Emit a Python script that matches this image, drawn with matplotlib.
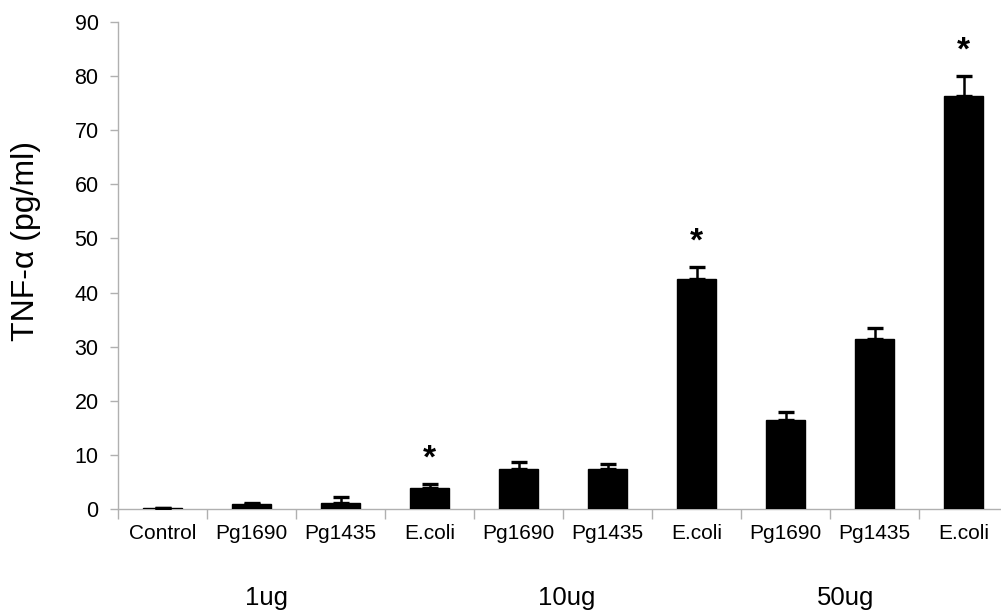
import matplotlib
matplotlib.use("Agg")
import matplotlib.pyplot as plt
import numpy as np

plt.rcParams['font.family'] = ['Liberation Sans', 'DejaVu Sans']

categories = ["Control", "Pg1690", "Pg1435", "E.coli", "Pg1690", "Pg1435",
              "E.coli", "Pg1690", "Pg1435", "E.coli"]
values = [0.1, 0.9, 1.2, 3.9, 7.3, 7.3, 42.5, 16.4, 31.5, 76.3]
errors = [0.0, 0.3, 1.1, 0.7, 1.4, 1.1, 2.2, 1.5, 1.9, 3.7]
significant = [False, False, False, True, False, False, True, False, False, True]
groups = ["1ug", "10ug", "50ug"]
group_centers = [1.67, 5.04, 8.17]  # x positions in category units
yticks = [0, 10, 20, 30, 40, 50, 60, 70, 80, 90]

W, H = 1001, 614
fig = plt.figure(figsize=(W / 100, H / 100), dpi=100)
left, right, bottom, top = 118, 1008, 509, 22
ax = fig.add_axes([left / W, (H - bottom) / H, (right - left) / W, (bottom - top) / H])

x = np.arange(len(categories)) + 0.5
ax.bar(x, values, width=0.44, color='black', edgecolor='black', zorder=3)
ax.errorbar(x, values, yerr=[np.zeros(len(errors)), errors], fmt='none',
            ecolor='black', elinewidth=1.8, capsize=6, capthick=2.4, zorder=4)

for xi, v, e, s in zip(x, values, errors, significant):
    if s:
        ax.annotate("*", (xi, v + e), xytext=(0, 7), textcoords='offset points',
                    ha='center', va='bottom', fontsize=24, fontweight='bold')

ax.set_xlim(0, len(categories))
ax.set_ylim(0, 90)
ax.set_yticks(yticks)
ax.set_yticklabels([str(t) for t in yticks], fontsize=15.5)
ax.set_xticks(np.arange(len(categories) + 1))
ax.set_xticklabels([])
ax.set_xticks(x, minor=True)
ax.set_xticklabels(categories, minor=True, fontsize=15)
ax.tick_params(axis='x', which='minor', length=0, pad=11)
ax.tick_params(axis='x', which='major', length=7, color='#b0b0b0', width=1)
ax.tick_params(axis='y', length=6, color='#b0b0b0', width=1, pad=8)

for side in ['top', 'right']:
    ax.spines[side].set_visible(False)
for side in ['left', 'bottom']:
    ax.spines[side].set_color('#b0b0b0')
    ax.spines[side].set_linewidth(1)

for g, c in zip(groups, group_centers):
    ax.text(c, -0.183, g, transform=ax.get_xaxis_transform(), ha='center',
            va='center', fontsize=18.5)

ax.set_ylabel("TNF-α (pg/ml)", fontsize=23)
ax.yaxis.set_label_coords(-0.087, 0.55)

fig.savefig("out.png", dpi=100)
